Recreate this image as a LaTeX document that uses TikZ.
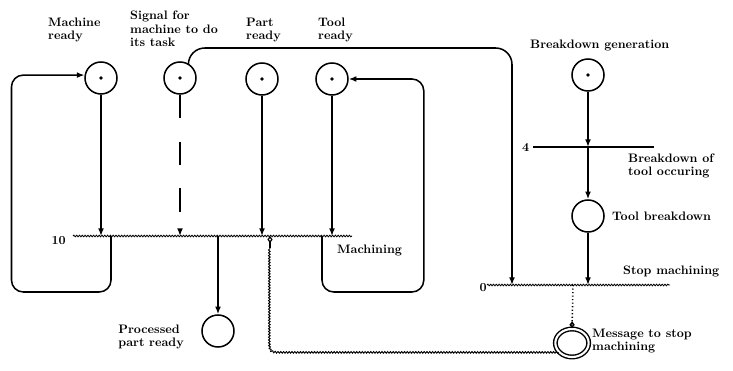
\documentclass[tikz,border=0pt]{standalone}
\usepackage{tikz}
\usetikzlibrary{shapes.geometric, arrows.meta, positioning, calc, decorations.pathmorphing}

\begin{document}
\begin{tikzpicture}[
    x=0.03cm, y=-0.03cm,
    font=\bfseries\fontsize{10.5}{11.5}\selectfont,
    place/.style={circle, draw, line width=1.3pt, minimum size=0.96cm, inner sep=0pt},
    token/.style={place, path picture={\fill (path picture bounding box.center) circle (1.6pt);}},
    trans/.style={inner sep=0pt, outer sep=0pt, minimum height=0pt},
    wavy/.style={decorate, decoration={snake, amplitude=0.7pt, segment length=2.4pt}},
    arc/.style={-{Latex[length=6.5pt, width=5pt]}, line width=1.3pt},
    msgarc/.style={-{Diamond[open, length=6pt, width=4.5pt]}, line width=1pt},
    lbl/.style={align=left, inner sep=0pt}
]
\useasboundingbox (0,0) rectangle (733,371);

% Places
\node[token] (mr) at (101,78) {};
\node[token] (sig) at (180,78) {};
\node[token] (pr) at (262,79) {};
\node[token] (tr) at (332,79) {};
\node[token] (bg) at (588,75) {};
\node[place] (tb) at (588,216) {};
\node[place] (pp) at (218,331) {};
\node[ellipse, draw, line width=1.2pt, double, double distance=1.8pt,
      minimum width=1.0cm, minimum height=0.84cm, inner sep=0pt] (msg) at (572,343) {};

% Transitions
\node[trans, minimum width=8.37cm] (t10) at (212.5,236) {};
\node[trans, minimum width=3.63cm] (t4) at (593.5,147) {};
\node[trans, minimum width=5.49cm] (t0) at (578.5,285) {};
\draw[wavy, line width=0.7pt] (t10.west) -- (t10.east);
\draw[line width=1.4pt] (t4.west) -- (t4.east);
\draw[wavy, line width=0.7pt] (t0.west) -- (t0.east);

% Labels
\node[lbl, anchor=west] at (48,30) {Machine\\ready};
\node[lbl, anchor=west] at (130,29) {Signal for\\machine to do\\its task};
\node[lbl, anchor=west] at (246,30) {Part\\ready};
\node[lbl, anchor=west] at (318,30) {Tool\\ready};
\node[lbl, anchor=west] at (530,45) {Breakdown generation};
\node[lbl, left=3pt of t4.west] {4};
\node[lbl, anchor=west] at (628,166) {Breakdown of\\tool occuring};
\node[lbl, right=6pt of tb] {Tool breakdown};
\node[lbl, anchor=east] at (66,241) {10};
\node[lbl, anchor=west] at (337,250) {Machining};
\node[lbl, anchor=east] at (487,288) {0};
\node[lbl, anchor=west] at (623,271) {Stop machining};
\node[lbl, anchor=east] at (184,337) {Processed\\part ready};
\node[lbl, anchor=west] at (592,341) {Message to stop\\machining};

% Points on the transitions
\coordinate (o10a) at ($(t10.west)+(38,0)$);
\coordinate (o10b) at ($(t10.west)+(249,0)$);
\coordinate (m10) at ($(t10.west)+(197,0)$);
\coordinate (s0) at ($(t0.west)+(25,0)$);
\coordinate (d0) at ($(t0.west)+(86,0)$);
\coordinate (mc) at (m10 |- msg.215);

% Arcs into machining
\draw[arc] (mr) -- (mr |- t10);
\draw[arc, dash pattern=on 20pt off 20pt] (sig) -- (sig |- t10);
\draw[arc] (pr) -- (pr |- t10);
\draw[arc] (tr) -- (tr |- t10);

% Arcs out of machining
\draw[arc] (pp |- t10) -- (pp);
\draw[arc, rounded corners=10] (o10a) -- ++(0,56) -| ($(mr.170)+(-73,0)$) -- (mr.170);
\draw[arc, rounded corners=10] (o10b) -- ++(0,56) -| ($(tr.east)+(75,0)$) -- (tr.east);

% Breakdown
\draw[arc] (bg) -- (bg |- t4);
\draw[arc] (bg |- t4) -- (tb);
\draw[arc] (tb) -- (tb |- t0);
\draw[arc, rounded corners=14] (sig.60) |- ($(s0)+(0,-237)$) -- (s0);

% Message to stop machining
\draw[msgarc, dotted, line width=1.3pt] (d0) -- (msg.north);
\draw[wavy, line width=0.8pt] (msg.215) -- ($(mc)+(14,0)$) .. controls (mc) .. ($(mc)+(0,-14)$) -- ($(m10)+(0,12)$);
\draw[msgarc] ($(m10)+(0,12)$) -- (m10);

\end{tikzpicture}
\end{document}
